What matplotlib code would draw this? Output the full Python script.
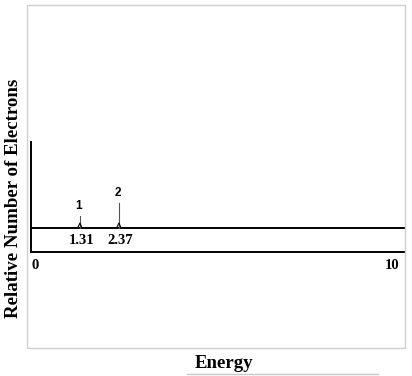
import matplotlib
matplotlib.use("Agg")
import matplotlib.pyplot as plt
from matplotlib.patches import Rectangle
from matplotlib.lines import Line2D

# peak data
peak_energies = [1.31, 2.37]
peak_heights = [12, 25]
peak_names = ["1", "2"]
baseline = 24
x_ticks = [0, 10]
x_tick_labels = ["0", "10"]

_SERIF = ["Liberation Serif", "DejaVu Serif"]
_SANS = ["Liberation Sans", "DejaVu Sans"]

W, H = 412, 376
fig = plt.figure(figsize=(W / 100, H / 100), dpi=100)
fig.patch.set_facecolor("white")

# outer light frame
fig.add_artist(Rectangle((27 / W, 1 - 348 / H), (405 - 27) / W, (348 - 5) / H,
                         transform=fig.transFigure, fill=False,
                         edgecolor="#cfcfcf", linewidth=1.0))

ax = fig.add_axes([31 / W, 1 - 252 / H, (405 - 31) / W, (252 - 142) / H])
ax.set_xlim(-0.02, 10.15)
ax.set_ylim(0, 110)
for side in ["top", "right"]:
    ax.spines[side].set_visible(False)
for side in ["left", "bottom"]:
    ax.spines[side].set_color("black")
    ax.spines[side].set_linewidth(1.4)

ax.axhline(baseline, color="black", linewidth=1.4)

for e, h, name in zip(peak_energies, peak_heights, peak_names):
    w = 0.06
    ax.plot([e, e], [baseline, baseline + h], color="#555555", linewidth=0.8)
    ax.plot([e - w, e, e + w], [baseline, baseline + 5, baseline],
            color="black", linewidth=0.8)
    ax.text(e - 0.04, baseline + h + 4, name, ha="center", va="bottom",
            fontsize=8.5, fontweight="bold", family=_SANS)
    ax.text(e + 0.04, baseline - 6, f"{e:.2f}", ha="center", va="top",
            fontsize=10.5, fontweight="bold", family=_SERIF)

ax.set_xticks([])
ax.set_yticks([])
for t, lab in zip(x_ticks, x_tick_labels):
    ax.text(t, -7, lab, ha="left" if t == 0 else "right", va="top",
            fontsize=10.5, fontweight="bold", family=_SERIF)

fig.text(224 / W, 1 - 364 / H, "Energy", ha="center", va="center",
         fontsize=13.5, fontweight="bold", family=_SERIF)
fig.add_artist(Line2D([187 / W, 378 / W], [1 - 374 / H, 1 - 374 / H],
                      transform=fig.transFigure, color="#c8c8c8", linewidth=1.0))
fig.text(14 / W, 1 - 198 / H, "Relative Number of Electrons", ha="center",
         va="center", rotation=90, fontsize=13.6, fontweight="bold", family=_SERIF)

fig.savefig("out.png", dpi=100)
